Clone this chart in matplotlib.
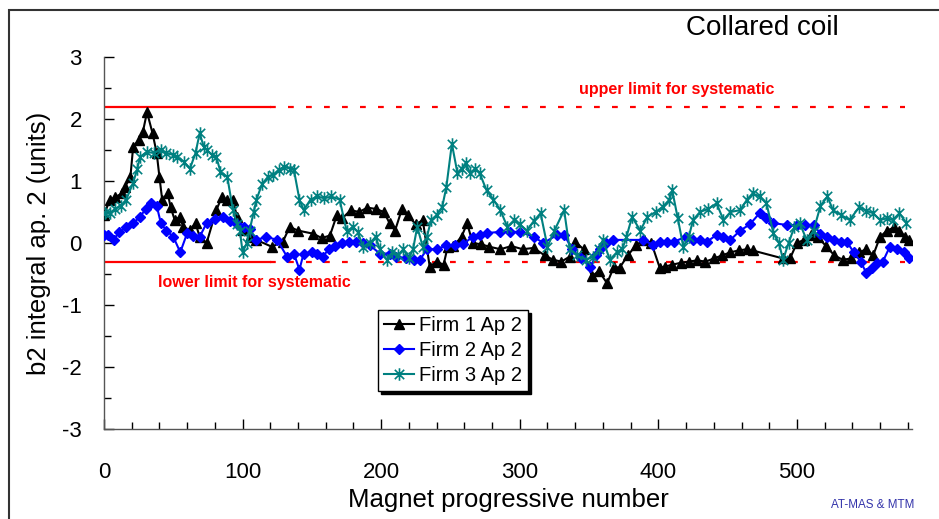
import matplotlib
matplotlib.use('Agg')
import matplotlib.pyplot as plt
from matplotlib.patches import Rectangle
from matplotlib.path import Path
from matplotlib.ticker import MultipleLocator

plt.rcParams['font.family'] = ['Liberation Sans', 'DejaVu Sans']
plt.rcParams['axes.unicode_minus'] = False

# Firm 1 Ap 2 (magnet number, b2)
f1_x = [0, 4, 8, 13, 15, 19, 21, 25, 28, 31, 35, 38, 40, 42, 46, 48, 51, 55, 57, 62,
        66, 69, 74, 81, 85, 89, 93, 96, 100, 105, 110, 121, 129, 134, 140, 151, 157, 163, 168, 172,
        178, 184, 190, 196, 202, 206, 210, 215, 219, 225, 230, 235, 240, 245, 248, 252, 258, 262, 266, 272,
        278, 286, 294, 302, 310, 318, 324, 330, 336, 340, 346, 352, 357, 363, 368, 372, 378, 384, 390, 395,
        401, 405, 410, 416, 422, 428, 434, 440, 446, 452, 458, 464, 468, 490, 495, 500, 505, 510, 515, 521,
        527, 533, 539, 545, 550, 555, 560, 565, 570, 574, 578, 581]
f1_y = [0.45, 0.69, 0.74, 0.8, 0.9, 1.06, 1.55, 1.66, 1.79, 2.11, 1.77, 1.45, 1.06, 0.69, 0.8, 0.58, 0.37, 0.42, 0.26, 0.21,
        0.32, 0.1, 0.0, 0.53, 0.74, 0.69, 0.69, 0.42, 0.21, 0.1, 0.05, -0.06, 0.02, 0.26, 0.2, 0.15, 0.08, 0.12, 0.45, 0.4,
        0.53, 0.5, 0.57, 0.55, 0.5, 0.32, 0.2, 0.55, 0.45, 0.3, 0.37, -0.38, -0.3, -0.35, -0.06, -0.05, 0.1, 0.32, 0.0, -0.02,
        -0.06, -0.1, -0.05, -0.1, -0.08, -0.2, -0.27, -0.3, -0.22, 0.02, -0.1, -0.54, -0.45, -0.65, -0.38, -0.4, -0.2, -0.03, 0.05, 0.0,
        -0.4, -0.38, -0.35, -0.32, -0.3, -0.28, -0.3, -0.25, -0.2, -0.15, -0.12, -0.1, -0.12, -0.25, -0.25, 0.0, 0.05, 0.13, 0.1, -0.05,
        -0.2, -0.27, -0.25, -0.15, -0.1, -0.2, 0.1, 0.2, 0.25, 0.2, 0.1, 0.05]

# Firm 2 Ap 2
f2_x = [0, 3, 7, 11, 16, 21, 26, 30, 34, 38, 41, 45, 50, 55, 60, 64, 69, 74, 80, 86,
        91, 96, 101, 105, 110, 117, 125, 132, 137, 141, 144, 150, 154, 158, 162, 167, 172, 177, 182, 187,
        192, 199, 206, 211, 218, 224, 228, 233, 240, 247, 253, 259, 266, 271, 276, 286, 293, 300, 310, 317,
        327, 332, 338, 344, 351, 355, 358, 362, 367, 389, 396, 401, 406, 411, 420, 425, 430, 435, 442, 447,
        452, 459, 466, 473, 478, 483, 493, 500, 506, 512, 517, 522, 527, 532, 536, 541, 546, 550, 554, 558,
        562, 567, 572, 577, 581]
f2_y = [0.13, 0.13, 0.05, 0.18, 0.25, 0.32, 0.42, 0.55, 0.64, 0.6, 0.32, 0.2, 0.1, -0.15, 0.16, 0.12, 0.1, 0.32, 0.38, 0.42,
        0.35, 0.3, 0.26, 0.22, 0.05, 0.1, 0.05, -0.22, -0.17, -0.43, -0.17, -0.15, -0.17, -0.22, -0.1, -0.05, 0.0, 0.02, 0.02, 0.0,
        -0.04, -0.17, -0.17, -0.22, -0.25, -0.27, -0.27, -0.1, -0.1, -0.04, -0.04, -0.02, 0.1, 0.13, 0.16, 0.18, 0.18, 0.18, 0.1, 0.0,
        0.13, 0.13, -0.1, -0.25, -0.38, -0.2, -0.1, 0.0, 0.05, 0.05, -0.03, 0.02, 0.02, 0.02, 0.1, 0.05, 0.05, 0.02, 0.13, 0.1,
        0.05, 0.2, 0.3, 0.48, 0.4, 0.32, 0.29, 0.29, 0.29, 0.29, 0.15, 0.1, 0.05, 0.02, 0.02, -0.15, -0.3, -0.48, -0.4, -0.32,
        -0.3, -0.06, -0.1, -0.15, -0.25]

# Firm 3 Ap 2
f3_x = [1, 4, 8, 12, 16, 21, 24, 26, 31, 36, 41, 45, 50, 53, 58, 62, 66, 69, 72, 74,
        78, 81, 84, 89, 93, 96, 98, 100, 103, 105, 108, 110, 114, 118, 122, 126, 130, 134, 137, 141,
        144, 149, 154, 159, 164, 170, 175, 180, 183, 187, 192, 196, 199, 204, 208, 212, 216, 220, 223, 226,
        230, 233, 236, 240, 244, 247, 251, 255, 258, 261, 264, 268, 271, 276, 281, 286, 291, 296, 300, 305,
        310, 315, 320, 325, 332, 336, 341, 348, 353, 357, 360, 365, 370, 374, 377, 381, 387, 392, 398, 403,
        408, 410, 414, 418, 422, 425, 430, 436, 442, 447, 452, 459, 464, 468, 473, 478, 483, 487, 490, 494,
        498, 502, 507, 512, 517, 522, 526, 532, 538, 545, 550, 555, 560, 565, 569, 574, 579]
f3_y = [0.48, 0.48, 0.55, 0.6, 0.7, 0.97, 1.2, 1.39, 1.47, 1.45, 1.5, 1.45, 1.42, 1.39, 1.3, 1.2, 1.45, 1.77, 1.55, 1.5,
        1.42, 1.39, 1.15, 1.06, 0.53, 0.3, 0.2, -0.15, 0.0, 0.2, 0.5, 0.7, 0.95, 1.06, 1.1, 1.18, 1.23, 1.2, 1.18, 0.7,
        0.53, 0.7, 0.75, 0.72, 0.75, 0.7, 0.2, 0.25, 0.18, -0.06, 0.0, 0.1, -0.1, -0.27, -0.15, -0.2, -0.1, -0.25, -0.1, 0.26,
        -0.06, 0.1, 0.37, 0.45, 0.58, 0.9, 1.6, 1.13, 1.2, 1.29, 1.13, 1.2, 1.13, 0.85, 0.7, 0.53, 0.26, 0.37, 0.3, 0.2,
        0.35, 0.48, -0.06, 0.2, 0.53, -0.1, -0.2, -0.27, -0.22, -0.1, 0.05, -0.27, -0.15, -0.1, 0.1, 0.42, 0.2, 0.42, 0.5, 0.58,
        0.7, 0.85, 0.4, -0.06, 0.1, 0.37, 0.5, 0.55, 0.64, 0.37, 0.5, 0.53, 0.7, 0.8, 0.75, 0.64, 0.16, 0.0, -0.27, 0.0,
        0.25, 0.32, 0.05, 0.2, 0.6, 0.75, 0.53, 0.45, 0.37, 0.58, 0.52, 0.48, 0.37, 0.4, 0.37, 0.48, 0.32]

upper_limit = 2.2
lower_limit = -0.3
solid_end = 120
x_max = 583

# excel-like star: vertical stroke plus an x
star = Path([(0, -1), (0, 1), (-0.75, -0.75), (0.75, 0.75), (-0.75, 0.75), (0.75, -0.75)],
            [Path.MOVETO, Path.LINETO] * 3)

fig = plt.figure(figsize=(9.39, 5.19), dpi=100)
ax = fig.add_axes([0.1108, 0.1734, 0.8604, 0.7168])

# frame around the chart area
fig.patches.append(Rectangle((9 / 939, -0.05), 1.1, 1.05 - 10 / 519,
                             transform=fig.transFigure, fill=False,
                             edgecolor='#333333', linewidth=1.5))

# limit lines
for lim in (upper_limit, lower_limit):
    ax.plot([0, solid_end], [lim, lim], color='red', linewidth=1.6, zorder=1)
    ax.plot([solid_end, x_max - 5], [lim, lim], color='red', linewidth=1.6,
            dashes=(2.6, 5.5), zorder=1)

ax.plot(f1_x, f1_y, color='black', linewidth=1.5, marker='^', markersize=7.5,
        label='Firm 1 Ap 2', zorder=3)
ax.plot(f2_x, f2_y, color='blue', linewidth=1.5, marker='D', markersize=5.5,
        label='Firm 2 Ap 2', zorder=4)
ax.plot(f3_x, f3_y, color='#008080', linewidth=1.5, marker=star, markersize=9,
        markeredgewidth=1.2, label='Firm 3 Ap 2', zorder=5)

ax.text(413, 2.47, 'upper limit for systematic', color='red', fontsize=11.5,
        fontweight='bold', ha='center', va='center')
ax.text(39, -0.63, 'lower limit for systematic', color='red', fontsize=11.5,
        fontweight='bold', ha='left', va='center')

ax.set_xlim(0, x_max)
ax.set_ylim(-3, 3)
ax.xaxis.set_major_locator(MultipleLocator(100))
ax.xaxis.set_minor_locator(MultipleLocator(20))
ax.yaxis.set_major_locator(MultipleLocator(1))
ax.yaxis.set_minor_locator(MultipleLocator(0.5))
ax.tick_params(axis='both', which='both', direction='in', colors='black',
               labelsize=16, width=1)
ax.tick_params(axis='both', which='major', length=7)
ax.tick_params(axis='both', which='minor', length=5)
ax.tick_params(axis='y', which='major', pad=16)
ax.tick_params(axis='x', which='major', pad=24)

for side in ('top', 'right'):
    ax.spines[side].set_visible(False)
for side in ('left', 'bottom'):
    ax.spines[side].set_color('#555555')
    ax.spines[side].set_linewidth(1)

ax.set_xlabel('Magnet progressive number', fontsize=18.5, labelpad=3)
ax.set_ylabel('b2 integral ap. 2 (units)', fontsize=18.5, labelpad=8)

leg = ax.legend(loc='upper left', bbox_to_anchor=(0.339, 0.32), borderaxespad=0,
                fancybox=False, edgecolor='black', fontsize=14.5,
                shadow={'color': 'black', 'alpha': 1},
                handlelength=1.5, handletextpad=0.25, labelspacing=0.3,
                borderpad=0.3, framealpha=1)
leg.get_frame().set_linewidth(1)

fig.text(0.7306, 0.946, 'Collared coil', fontsize=20, ha='left', va='center')
fig.text(0.974, 0.027, 'AT-MAS & MTM', fontsize=8.4, color='#3333aa',
         ha='right', va='center')

fig.savefig('out.png', dpi=100)
